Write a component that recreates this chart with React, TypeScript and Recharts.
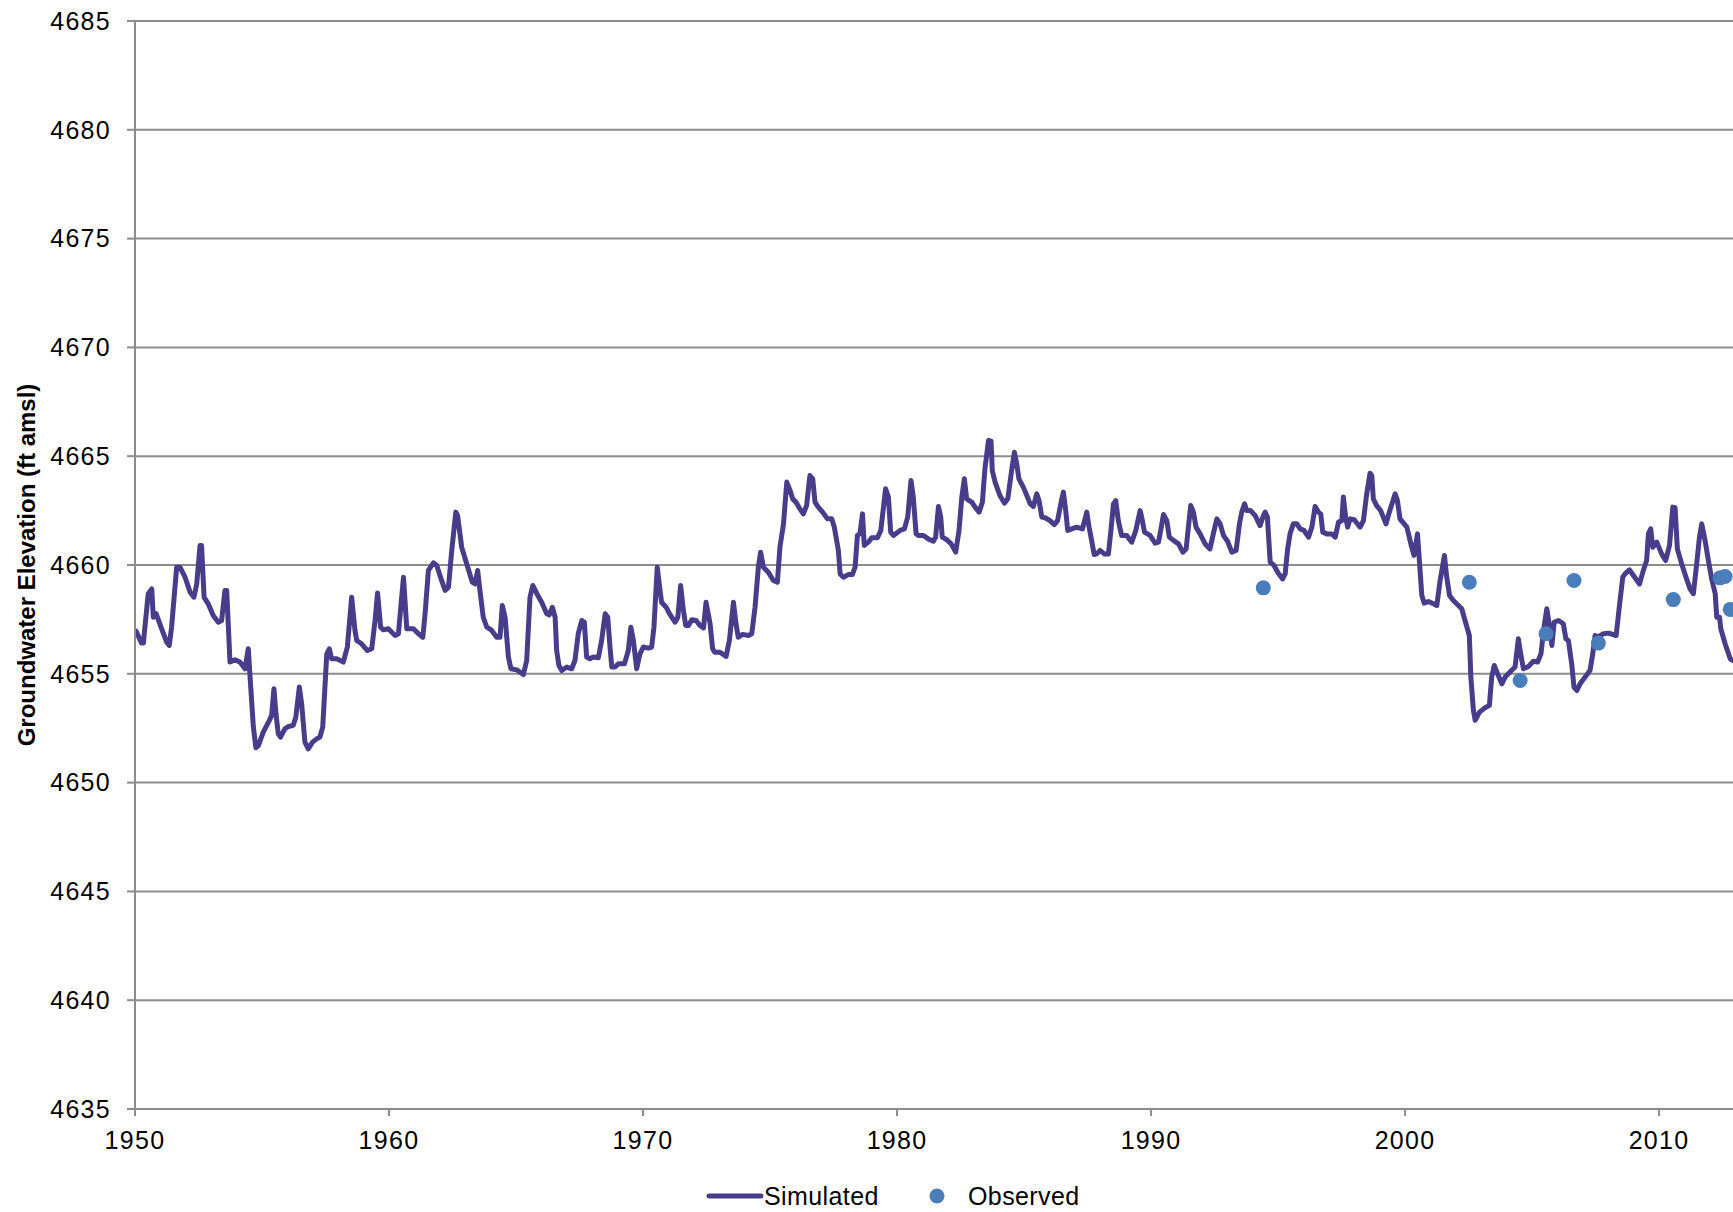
import React from 'react';
import { ComposedChart, Line, Scatter, XAxis, YAxis, CartesianGrid } from 'recharts';

const simYears = [
  1950.04, 1950.26, 1950.33, 1950.52, 1950.66, 1950.72, 1950.83, 1951.05, 1951.25, 1951.35,
  1951.44, 1951.64, 1951.77, 1951.97, 1952.17, 1952.32, 1952.43, 1952.56, 1952.62, 1952.72,
  1952.89, 1953.08, 1953.28, 1953.41, 1953.54, 1953.61, 1953.74, 1953.94, 1954.13, 1954.33,
  1954.46, 1954.53, 1954.66, 1954.76, 1954.86, 1955.05, 1955.29, 1955.38, 1955.47, 1955.55,
  1955.64, 1955.73, 1955.9, 1956.04, 1956.23, 1956.33, 1956.47, 1956.56, 1956.69, 1956.82,
  1956.99, 1957.15, 1957.28, 1957.39, 1957.55, 1957.65, 1957.74, 1957.94, 1958.2, 1958.36,
  1958.53, 1958.66, 1958.73, 1958.92, 1959.15, 1959.32, 1959.45, 1959.55, 1959.67, 1959.78,
  1959.97, 1960.24, 1960.37, 1960.57, 1960.7, 1960.96, 1961.16, 1961.33, 1961.42, 1961.55,
  1961.75, 1961.88, 1962.07, 1962.21, 1962.34, 1962.47, 1962.63, 1962.7, 1962.86, 1963.1,
  1963.28, 1963.39, 1963.49, 1963.58, 1963.71, 1963.85, 1964.02, 1964.24, 1964.37, 1964.46,
  1964.57, 1964.7, 1964.8, 1965.03, 1965.29, 1965.42, 1965.55, 1965.66, 1965.82, 1966.01,
  1966.21, 1966.31, 1966.43, 1966.54, 1966.6, 1966.69, 1966.8, 1967.0, 1967.19, 1967.32,
  1967.45, 1967.59, 1967.69, 1967.78, 1967.91, 1968.04, 1968.24, 1968.37, 1968.51, 1968.61,
  1968.7, 1968.77, 1968.9, 1969.03, 1969.27, 1969.42, 1969.52, 1969.62, 1969.75, 1969.88,
  1970.01, 1970.21, 1970.34, 1970.43, 1970.56, 1970.67, 1970.73, 1970.91, 1971.04, 1971.26,
  1971.37, 1971.48, 1971.59, 1971.68, 1971.79, 1971.92, 1972.09, 1972.24, 1972.38, 1972.48,
  1972.64, 1972.74, 1972.83, 1973.03, 1973.27, 1973.4, 1973.56, 1973.66, 1973.75, 1973.92,
  1974.15, 1974.28, 1974.41, 1974.54, 1974.63, 1974.74, 1974.93, 1975.13, 1975.29, 1975.39,
  1975.53, 1975.66, 1975.79, 1975.89, 1976.02, 1976.15, 1976.31, 1976.44, 1976.57, 1976.68,
  1976.77, 1976.9, 1977.07, 1977.26, 1977.43, 1977.53, 1977.69, 1977.76, 1977.89, 1978.08,
  1978.24, 1978.35, 1978.44, 1978.54, 1978.64, 1978.71, 1978.87, 1979.0, 1979.23, 1979.36,
  1979.55, 1979.66, 1979.75, 1979.86, 1980.12, 1980.29, 1980.42, 1980.55, 1980.64, 1980.75,
  1980.84, 1981.04, 1981.23, 1981.43, 1981.52, 1981.63, 1981.72, 1981.78, 1981.96, 1982.13,
  1982.31, 1982.44, 1982.55, 1982.65, 1982.74, 1982.94, 1983.07, 1983.23, 1983.36, 1983.46,
  1983.6, 1983.7, 1983.75, 1983.86, 1984.05, 1984.23, 1984.36, 1984.51, 1984.62, 1984.71,
  1984.8, 1984.97, 1985.11, 1985.24, 1985.37, 1985.5, 1985.59, 1985.7, 1985.83, 1986.02,
  1986.19, 1986.32, 1986.46, 1986.55, 1986.64, 1986.72, 1986.88, 1987.07, 1987.3, 1987.47,
  1987.56, 1987.66, 1987.76, 1987.86, 1987.99, 1988.16, 1988.32, 1988.42, 1988.52, 1988.61,
  1988.71, 1988.84, 1989.04, 1989.24, 1989.4, 1989.57, 1989.66, 1989.74, 1989.96, 1990.16,
  1990.29, 1990.38, 1990.49, 1990.62, 1990.72, 1990.88, 1991.08, 1991.25, 1991.38, 1991.47,
  1991.56, 1991.67, 1991.77, 1991.93, 1992.13, 1992.32, 1992.45, 1992.59, 1992.72, 1992.85,
  1993.01, 1993.18, 1993.35, 1993.48, 1993.57, 1993.68, 1993.77, 1993.92, 1994.1, 1994.29,
  1994.4, 1994.49, 1994.58, 1994.69, 1994.84, 1995.01, 1995.18, 1995.28, 1995.37, 1995.47,
  1995.6, 1995.74, 1995.87, 1996.02, 1996.2, 1996.33, 1996.46, 1996.59, 1996.68, 1996.76,
  1996.92, 1997.11, 1997.25, 1997.38, 1997.51, 1997.57, 1997.66, 1997.74, 1997.84, 1998.0,
  1998.23, 1998.36, 1998.49, 1998.62, 1998.69, 1998.75, 1998.88, 1999.04, 1999.25, 1999.38,
  1999.61, 1999.7, 1999.8, 2000.07, 2000.26, 2000.35, 2000.49, 2000.59, 2000.66, 2000.75,
  2000.92, 2001.12, 2001.25, 2001.38, 2001.55, 2001.64, 2001.75, 2001.9, 2002.1, 2002.23,
  2002.36, 2002.53, 2002.59, 2002.69, 2002.76, 2002.93, 2003.15, 2003.32, 2003.41, 2003.51,
  2003.64, 2003.81, 2003.94, 2004.13, 2004.33, 2004.46, 2004.55, 2004.66, 2004.86, 2005.05,
  2005.22, 2005.35, 2005.47, 2005.58, 2005.68, 2005.78, 2005.87, 2006.04, 2006.23, 2006.33,
  2006.43, 2006.56, 2006.65, 2006.76, 2006.89, 2007.09, 2007.28, 2007.39, 2007.48, 2007.61,
  2007.81, 2008.01, 2008.31, 2008.44, 2008.57, 2008.66, 2008.83, 2008.99, 2009.23, 2009.38,
  2009.51, 2009.58, 2009.67, 2009.75, 2009.91, 2010.1, 2010.26, 2010.41, 2010.54, 2010.63,
  2010.72, 2010.89, 2011.06, 2011.22, 2011.35, 2011.48, 2011.59, 2011.68, 2011.81, 2011.94,
  2012.07, 2012.21, 2012.27, 2012.38, 2012.43, 2012.6, 2012.8, 2012.91,
];

const simValues = [
  4656.96, 4656.41, 4656.41, 4658.68, 4658.9, 4657.6, 4657.76, 4657.07, 4656.45, 4656.3,
  4657.14, 4659.9, 4659.9, 4659.44, 4658.75, 4658.52, 4659.13, 4660.9, 4660.9, 4658.52,
  4658.2, 4657.68, 4657.37, 4657.45, 4658.83, 4658.83, 4655.54, 4655.64, 4655.54, 4655.23,
  4656.15, 4654.85, 4652.55, 4651.6, 4651.71, 4652.32, 4652.86, 4653.09, 4654.31, 4653.16,
  4652.24, 4652.09, 4652.47, 4652.58, 4652.63, 4653.0, 4654.39, 4653.62, 4651.86, 4651.55,
  4651.86, 4652.01, 4652.09, 4652.55, 4655.92, 4656.15, 4655.69, 4655.69, 4655.54, 4656.23,
  4658.52, 4656.99, 4656.53, 4656.38, 4656.07, 4656.15, 4657.45, 4658.71, 4657.14, 4657.02,
  4657.07, 4656.76, 4656.84, 4659.44, 4657.07, 4657.07, 4656.84, 4656.68, 4657.76, 4659.75,
  4660.1, 4659.98, 4659.29, 4658.83, 4658.98, 4660.67, 4662.43, 4662.27, 4660.82, 4659.9,
  4659.21, 4659.13, 4659.75, 4658.83, 4657.6, 4657.14, 4657.02, 4656.68, 4656.68, 4658.14,
  4657.6, 4655.77, 4655.23, 4655.18, 4654.97, 4655.61, 4658.52, 4659.06, 4658.68, 4658.29,
  4657.76, 4657.71, 4658.06, 4657.6, 4656.07, 4655.38, 4655.15, 4655.31, 4655.23, 4655.61,
  4656.84, 4657.45, 4657.37, 4655.77, 4655.69, 4655.77, 4655.74, 4656.53, 4657.76, 4657.6,
  4656.23, 4655.31, 4655.31, 4655.46, 4655.46, 4656.07, 4657.14, 4656.53, 4655.23, 4655.92,
  4656.23, 4656.18, 4656.23, 4657.14, 4659.9, 4658.83, 4658.29, 4658.06, 4657.76, 4657.37,
  4657.6, 4659.06, 4657.91, 4657.22, 4657.22, 4657.48, 4657.45, 4657.22, 4657.11, 4658.29,
  4657.3, 4656.15, 4655.99, 4655.99, 4655.8, 4656.53, 4658.29, 4657.3, 4656.68, 4656.81,
  4656.76, 4656.84, 4658.06, 4659.9, 4660.59, 4659.9, 4659.67, 4659.29, 4659.21, 4660.82,
  4661.89, 4663.81, 4663.42, 4663.04, 4662.89, 4662.63, 4662.35, 4662.73, 4664.11, 4663.96,
  4662.89, 4662.66, 4662.43, 4662.12, 4662.12, 4661.74, 4660.67, 4659.59, 4659.44, 4659.56,
  4659.56, 4659.9, 4661.36, 4661.43, 4662.35, 4660.9, 4661.05, 4661.25, 4661.25, 4661.59,
  4663.5, 4663.12, 4661.51, 4661.36, 4661.59, 4661.66, 4662.2, 4663.88, 4663.12, 4661.43,
  4661.36, 4661.36, 4661.2, 4661.09, 4661.28, 4662.69, 4662.2, 4661.28, 4661.16, 4660.97,
  4660.59, 4661.59, 4663.12, 4663.96, 4663.04, 4662.89, 4662.66, 4662.43, 4662.89, 4664.42,
  4665.72, 4665.69, 4664.34, 4663.81, 4663.19, 4662.84, 4663.04, 4664.34, 4665.18, 4664.65,
  4663.96, 4663.58, 4663.19, 4662.81, 4662.69, 4663.27, 4662.96, 4662.2, 4662.17, 4662.04,
  4661.86, 4662.04, 4662.89, 4663.35, 4662.5, 4661.59, 4661.66, 4661.74, 4661.66, 4662.43,
  4661.74, 4661.13, 4660.48, 4660.51, 4660.67, 4660.51, 4660.51, 4661.59, 4662.81, 4662.96,
  4662.04, 4661.36, 4661.36, 4661.05, 4661.59, 4662.5, 4662.04, 4661.51, 4661.36, 4661.0,
  4661.05, 4661.59, 4662.32, 4662.04, 4661.28, 4661.13, 4660.97, 4660.59, 4660.74, 4661.74,
  4662.73, 4662.43, 4661.74, 4661.43, 4660.97, 4660.74, 4661.43, 4662.12, 4661.89, 4661.36,
  4661.09, 4660.59, 4660.67, 4661.89, 4662.43, 4662.81, 4662.5, 4662.5, 4662.27, 4661.81,
  4662.2, 4662.43, 4662.2, 4660.13, 4659.98, 4659.62, 4659.36, 4659.59, 4660.67, 4661.43,
  4661.89, 4661.89, 4661.66, 4661.59, 4661.28, 4661.74, 4662.69, 4662.43, 4662.35, 4661.51,
  4661.43, 4661.43, 4661.28, 4661.97, 4662.04, 4663.12, 4662.2, 4661.74, 4662.12, 4662.08,
  4661.74, 4662.04, 4663.27, 4664.22, 4664.11, 4663.04, 4662.73, 4662.5, 4661.89, 4662.43,
  4663.27, 4662.96, 4662.12, 4661.74, 4660.82, 4660.44, 4661.43, 4659.75, 4658.6, 4658.25,
  4658.32, 4658.22, 4658.14, 4659.29, 4660.44, 4659.44, 4658.6, 4658.37, 4658.14, 4657.99,
  4657.45, 4656.76, 4654.85, 4653.32, 4652.86, 4653.24, 4653.44, 4653.55, 4654.85, 4655.38,
  4655.0, 4654.54, 4654.85, 4655.08, 4655.31, 4656.61, 4655.92, 4655.23, 4655.34, 4655.58,
  4655.54, 4655.92, 4657.14, 4657.99, 4657.22, 4656.3, 4657.37, 4657.45, 4657.3, 4656.61,
  4656.53, 4655.46, 4654.39, 4654.23, 4654.54, 4654.85, 4655.15, 4655.92, 4656.76, 4656.71,
  4656.84, 4656.87, 4656.76, 4658.14, 4659.44, 4659.59, 4659.78, 4659.52, 4659.13, 4659.75,
  4660.21, 4661.43, 4661.66, 4660.82, 4661.05, 4660.51, 4660.21, 4660.9, 4662.66, 4662.63,
  4660.74, 4660.05, 4659.44, 4658.9, 4658.68, 4660.05, 4661.28, 4661.89, 4661.13, 4660.21,
  4659.36, 4658.68, 4657.6, 4657.6, 4657.07, 4656.38, 4655.69, 4655.61,
];

const obsYears = [1994.42, 2002.53, 2004.53, 2005.55, 2006.65, 2007.61, 2010.56, 2012.4, 2012.6, 2012.8];
const obsValues = [4658.95, 4659.21, 4654.69, 4656.84, 4659.29, 4656.41, 4658.41, 4659.41, 4659.47, 4657.96];

const xTicks = [1950, 1960, 1970, 1980, 1990, 2000, 2010];
const yTicks = [4635, 4640, 4645, 4650, 4655, 4660, 4665, 4670, 4675, 4680, 4685];

const simData = simYears.map((year, i) => ({ year, sim: simValues[i] }));
const obsData = obsYears.map((year, i) => ({ year, obs: obsValues[i] }));

const LINE_COLOR = '#483d8b';
const DOT_COLOR = '#4a7ebb';
const AXIS_COLOR = '#8c8c8c';
const FONT = '"Liberation Sans", Arial, sans-serif';

const ObsDot = (props: any) => {
  const { cx, cy } = props;
  if (cx == null || cy == null) return null;
  return <circle cx={cx} cy={cy} r={7.5} fill={DOT_COLOR} />;
};

const tickStyle = { fontSize: 25, fill: '#000', fontFamily: FONT, letterSpacing: 1.3 };

export default function App() {
  return (
    <div
      style={{
        position: 'fixed',
        left: 0,
        top: 0,
        width: 1733,
        height: 1212,
        background: '#fff',
        overflow: 'hidden',
      }}
    >
      <ComposedChart
        width={1733}
        height={1212}
        margin={{ top: 21, right: 0, left: 0, bottom: 43 }}
      >
        <CartesianGrid vertical={false} stroke={AXIS_COLOR} strokeWidth={2} />
        <XAxis
          dataKey="year"
          type="number"
          domain={[1950, 2012.91]}
          allowDataOverflow
          ticks={xTicks}
          interval={0}
          height={60}
          tickSize={7}
          tickMargin={15}
          axisLine={{ stroke: AXIS_COLOR, strokeWidth: 2 }}
          tickLine={{ stroke: AXIS_COLOR, strokeWidth: 2 }}
          tick={tickStyle}
        />
        <YAxis
          type="number"
          domain={[4635, 4685]}
          ticks={yTicks}
          interval={0}
          width={135}
          tickSize={8}
          tickMargin={16}
          axisLine={{ stroke: AXIS_COLOR, strokeWidth: 2 }}
          tickLine={{ stroke: AXIS_COLOR, strokeWidth: 2 }}
          tick={tickStyle}
        />
        <Line
          data={simData}
          dataKey="sim"
          type="linear"
          stroke={LINE_COLOR}
          strokeWidth={5}
          strokeLinejoin="round"
          strokeLinecap="round"
          dot={false}
          activeDot={false}
          isAnimationActive={false}
        />
        <Scatter data={obsData} dataKey="obs" shape={ObsDot} isAnimationActive={false} />
      </ComposedChart>
      <svg
        width={1733}
        height={1212}
        style={{ position: 'absolute', left: 0, top: 0, pointerEvents: 'none' }}
      >
        <text
          x={26}
          y={565}
          transform="rotate(-90 26 565)"
          textAnchor="middle"
          dominantBaseline="central"
          fontFamily={FONT}
          fontWeight={700}
          fontSize={24}
          fill="#000"
        >
          Groundwater Elevation (ft amsl)
        </text>
        <line x1={709} x2={761} y1={1196} y2={1196} stroke={LINE_COLOR} strokeWidth={5} strokeLinecap="round" />
        <text x={764} y={1196} dominantBaseline="central" fontFamily={FONT} fontSize={25} fill="#000" letterSpacing={0.4}>
          Simulated
        </text>
        <circle cx={937} cy={1196} r={7.5} fill={DOT_COLOR} />
        <text x={968} y={1196} dominantBaseline="central" fontFamily={FONT} fontSize={25} fill="#000" letterSpacing={0.4}>
          Observed
        </text>
      </svg>
    </div>
  );
}
